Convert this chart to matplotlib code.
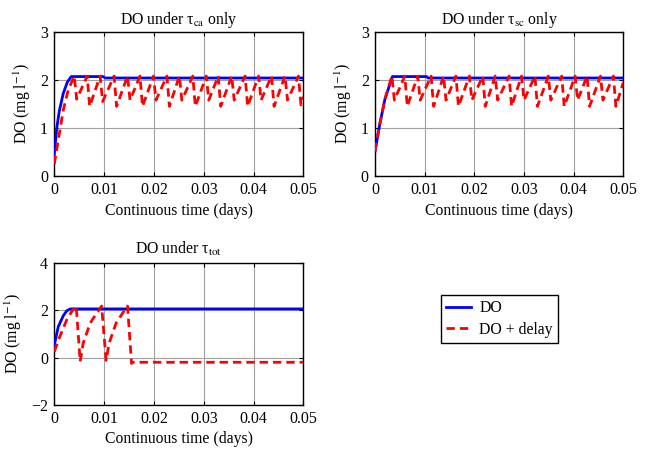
import matplotlib
matplotlib.use("Agg")
import matplotlib.pyplot as plt

plt.rcParams['font.family'] = ['Liberation Serif', 'DejaVu Serif']
plt.rcParams['mathtext.fontset'] = 'stix'
plt.rcParams['font.size'] = 11.3
plt.rcParams['axes.unicode_minus'] = True

# --- panel 1: DO under tau_ca only ---
t_ca_do = [0, 0.0005, 0.001, 0.0018, 0.0026, 0.0034, 0.0098, 0.0102, 0.05]
do_ca = [0.45, 1.0, 1.35, 1.72, 1.95, 2.07, 2.07, 2.04, 2.04]

t_ca_delay = [0, 0.0008, 0.0018, 0.0028, 0.0040,
              0.0045, 0.0066, 0.0071, 0.0092, 0.0097, 0.0120, 0.0125,
              0.0147, 0.0152, 0.0172, 0.0177, 0.0199, 0.0204, 0.0226,
              0.0231, 0.0251, 0.0256, 0.0278, 0.0283, 0.0305, 0.0310,
              0.0329, 0.0334, 0.0356, 0.0361, 0.0383, 0.0388, 0.0410,
              0.0415, 0.0436, 0.0441, 0.0463, 0.0468, 0.0490, 0.0495, 0.0500]
do_ca_delay = [0.25, 0.75, 1.37, 1.79, 2.08,
               1.60, 2.08, 1.45, 2.08, 1.55, 2.08, 1.45,
               2.08, 1.58, 2.08, 1.45, 2.08, 1.58, 2.08,
               1.45, 2.08, 1.58, 2.08, 1.45, 2.08, 1.58,
               2.08, 1.45, 2.08, 1.58, 2.08, 1.45, 2.08,
               1.58, 2.08, 1.45, 2.08, 1.58, 2.08, 1.48, 1.65]

# --- panel 2: DO under tau_sc only ---
t_sc_do = [0, 0.001, 0.002, 0.0035, 0.0104, 0.0107, 0.05]
do_sc = [0.52, 1.1, 1.6, 2.07, 2.07, 2.04, 2.04]

t_sc_delay = [0, 0.001, 0.002, 0.0034,
              0.0039, 0.0060, 0.0065, 0.0086, 0.0091, 0.0113, 0.0118,
              0.0138, 0.0143, 0.0163, 0.0168, 0.0190, 0.0195, 0.0217,
              0.0222, 0.0242, 0.0247, 0.0270, 0.0275, 0.0295, 0.0300,
              0.0322, 0.0327, 0.0349, 0.0354, 0.0376, 0.0381, 0.0403,
              0.0408, 0.0427, 0.0432, 0.0454, 0.0459, 0.0480, 0.0485, 0.0500]
do_sc_delay = [0.52, 1.1, 1.6, 2.08,
               1.58, 2.08, 1.45, 2.08, 1.58, 2.08, 1.45,
               2.08, 1.58, 2.08, 1.45, 2.08, 1.58, 2.08,
               1.45, 2.08, 1.58, 2.08, 1.45, 2.08, 1.58,
               2.08, 1.45, 2.08, 1.58, 2.08, 1.45, 2.08,
               1.58, 2.08, 1.45, 2.08, 1.58, 2.08, 1.45, 1.95]

# --- panel 3: DO under tau_tot ---
t_tot_do = [0, 0.0008, 0.0018, 0.0025, 0.0032, 0.05]
do_tot = [0.52, 1.3, 1.76, 1.97, 2.05, 2.05]

t_tot_delay = [0, 0.0011, 0.0025, 0.0035, 0.0044, 0.0052,
               0.0058, 0.0072, 0.0085, 0.0095, 0.0104,
               0.0110, 0.0124, 0.0137, 0.0147, 0.0155, 0.0158, 0.05]
do_tot_delay = [0.25, 0.88, 1.59, 1.94, 2.17, -0.17,
                0.6, 1.45, 1.87, 2.17, -0.12,
                0.6, 1.45, 1.87, 2.17, -0.25, -0.2, -0.2]

xticks = [0, 0.01, 0.02, 0.03, 0.04, 0.05]
xticklabels = ["0", "0.01", "0.02", "0.03", "0.04", "0.05"]

fig = plt.figure(figsize=(6.54, 4.55), dpi=100)
ax1 = fig.add_axes([0.083, 0.613, 0.381, 0.317])
ax2 = fig.add_axes([0.5734, 0.613, 0.3797, 0.317])
ax3 = fig.add_axes([0.083, 0.110, 0.381, 0.3127])

panels = [
    (ax1, t_ca_do, do_ca, t_ca_delay, do_ca_delay, r"DO under τ$_{\rm ca}$ only", (0, 3), [0, 1, 2, 3]),
    (ax2, t_sc_do, do_sc, t_sc_delay, do_sc_delay, r"DO under τ$_{\rm sc}$ only", (0, 3), [0, 1, 2, 3]),
    (ax3, t_tot_do, do_tot, t_tot_delay, do_tot_delay, r"DO under τ$_{\rm tot}$", (-2, 4), [-2, 0, 2, 4]),
]

for ax, t1, y1, t2, y2, title, ylim, yticks in panels:
    ax.plot(t1, y1, color="#0000ff", lw=2, label="DO", zorder=3)
    ax.plot(t2, y2, color="#ff0000", lw=2, ls=(0, (3, 1.8)), label="DO + delay", zorder=4)
    ax.set_xlim(0, 0.05)
    ax.set_ylim(*ylim)
    ax.set_xticks(xticks)
    ax.set_xticklabels(xticklabels)
    ax.set_yticks(yticks)
    ax.grid(True, color="#a0a0a0", lw=0.8, ls="-")
    ax.set_axisbelow(True)
    ax.tick_params(direction="in", top=True, right=True, length=3, width=0.8,
                   labelsize=11.5, pad=4.5)
    for s in ax.spines.values():
        s.set_linewidth(1.0)
    ax.set_title(title, fontsize=11.3, pad=6)
    ax.set_xlabel("Continuous time (days)", fontsize=11.3, labelpad=3)
    ax.set_ylabel(r"DO (mg l$^{-1}$)", fontsize=11.3, labelpad=5)

handles, labels = ax3.get_legend_handles_labels()
leg = fig.legend(handles, labels, loc="upper left", bbox_to_anchor=(0.674, 0.352),
                 borderaxespad=0, fancybox=False, edgecolor="black", framealpha=1,
                 handlelength=1.6, handletextpad=0.5, fontsize=11.3,
                 borderpad=0.35, labelspacing=0.35)
leg.get_frame().set_linewidth(1.0)

fig.savefig("out.png", dpi=100)
